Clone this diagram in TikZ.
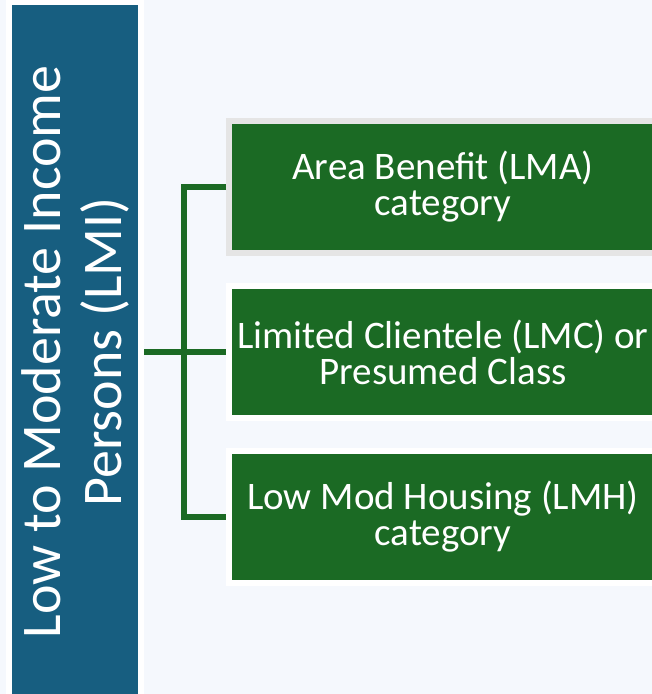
\documentclass[tikz,border=0pt]{standalone}
\usepackage{fontspec}
\setmainfont{Carlito}
\usetikzlibrary{positioning}

\definecolor{lmiblue}{RGB}{23,94,128}
\definecolor{lmgreen}{RGB}{27,106,36}
\definecolor{pagebg}{RGB}{245,248,253}
\definecolor{rimgrey}{RGB}{229,229,229}

\begin{document}
\begin{tikzpicture}[x=1pt,y=-1pt,
	bar/.style={fill=lmiblue,draw=white,line width=6pt,minimum width=700pt,minimum height=132pt,
		text=white,align=center,rotate=90,font=\fontsize{56}{61}\selectfont},
	cat/.style={fill=lmgreen,draw=white,line width=6pt,minimum width=428pt,minimum height=132pt,
		text=white,align=center,font=\fontsize{39}{36}\selectfont},
	link/.style={draw=lmgreen,line width=5.5pt}]
	\fill[pagebg] (0,0) rectangle (652,694);
	\useasboundingbox (0,0) rectangle (652,694);

	% rotated bar: its south side faces the boxes
	\node[bar] (lmi) at (75,352) {Low to Moderate Income\\Persons (LMI)};

	\node[cat,draw=rimgrey] (lma) at (443,187) {Area Benefit (LMA)\\category};
	\node[cat] (lmc) at (443,352) {Limited Clientele (LMC) or\\Presumed Class};
	\node[cat] (lmh) at (443,517) {Low Mod Housing (LMH)\\category};

	\coordinate (fork) at (184,352);
	\draw[link] (lmi.south) -- (lmc.west);
	\draw[link] (lma.west) -- (fork |- lma) -- (fork |- lmh) -- (lmh.west);
\end{tikzpicture}
\end{document}
